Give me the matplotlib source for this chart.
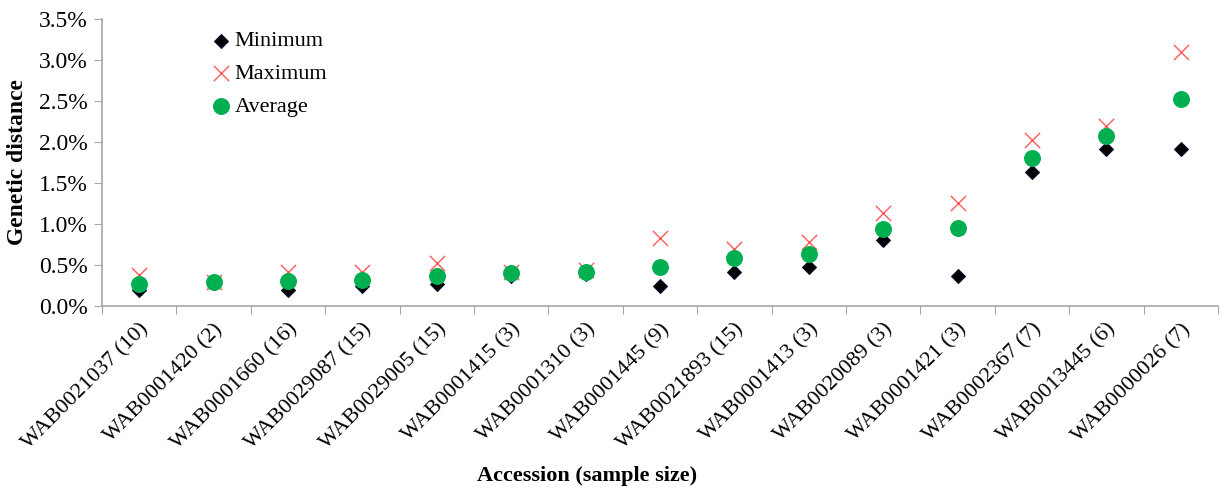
import matplotlib
matplotlib.use("Agg")
import matplotlib.pyplot as plt
from matplotlib.ticker import FuncFormatter, FixedLocator, NullFormatter
import numpy as np

plt.rcParams['font.family'] = ['Liberation Serif', 'DejaVu Serif']

categories = ["WAB0021037 (10)", "WAB0001420 (2)", "WAB0001660 (16)", "WAB0029087 (15)",
              "WAB0029005 (15)", "WAB0001415 (3)", "WAB0001310 (3)", "WAB0001445 (9)",
              "WAB0021893 (15)", "WAB0001413 (3)", "WAB0020089 (3)", "WAB0001421 (3)",
              "WAB0002367 (7)", "WAB0013445 (6)", "WAB0000026 (7)"]
minimum = [0.20, 0.28, 0.20, 0.24, 0.27, 0.37, 0.39, 0.24, 0.42, 0.48, 0.80, 0.36, 1.64, 1.92, 1.92]
maximum = [0.38, 0.29, 0.41, 0.42, 0.53, 0.42, 0.44, 0.83, 0.70, 0.78, 1.14, 1.25, 2.02, 2.20, 3.10]
average = [0.27, 0.29, 0.30, 0.32, 0.37, 0.40, 0.41, 0.48, 0.59, 0.64, 0.94, 0.95, 1.81, 2.07, 2.52]

fig = plt.figure(figsize=(12.21, 4.88), dpi=100)
ax = fig.add_axes([0.0835, 0.373, 0.914, 0.588])

x = np.arange(len(categories))
ax.scatter(x, minimum, marker='D', s=50, color='black', edgecolors='#0a1030', linewidths=0.8, label='Minimum', zorder=3)
ax.scatter(x, maximum, marker='x', s=120, color='#ff5a5a', linewidths=1.0, label='Maximum', zorder=2)
ax.scatter(x, average, marker='o', s=125, color='#00b050', label='Average', zorder=4)

ax.set_xlim(-0.5, len(categories) - 0.5)
ax.set_ylim(0, 3.5)
ax.set_yticks(np.arange(0, 3.51, 0.5))
ax.yaxis.set_major_formatter(FuncFormatter(lambda v, p: f"{v:.1f}%"))

ax.xaxis.set_major_locator(FixedLocator(np.arange(-0.5, len(categories), 1.0)))
ax.xaxis.set_major_formatter(NullFormatter())
ax.xaxis.set_minor_locator(FixedLocator(x))
ax.set_xticklabels(categories, minor=True, rotation=45, ha='right', rotation_mode='anchor', fontsize=16)
ax.tick_params(axis='x', which='minor', length=0, pad=10)
ax.tick_params(axis='x', which='major', length=6, color='#a6a6a6', direction='out')
ax.tick_params(axis='y', length=6, color='#a6a6a6', direction='out', labelsize=17, pad=4)

for s in ['top', 'right']:
    ax.spines[s].set_visible(False)
for s in ['left', 'bottom']:
    ax.spines[s].set_color('#a6a6a6')
    ax.spines[s].set_linewidth(1.2)

ax.set_ylabel("Genetic distance", fontsize=17, fontweight='bold', labelpad=8)
fig.text(0.481, 0.005, "Accession (sample size)", fontsize=16, fontweight='bold', ha='center', va='bottom')

ax.legend(loc='upper left', bbox_to_anchor=(0.085, 1.005), frameon=False, fontsize=16,
          handlelength=1.0, handletextpad=0.1, labelspacing=0.55, borderaxespad=0.2, scatterpoints=1)

fig.savefig("out.png", dpi=100)
